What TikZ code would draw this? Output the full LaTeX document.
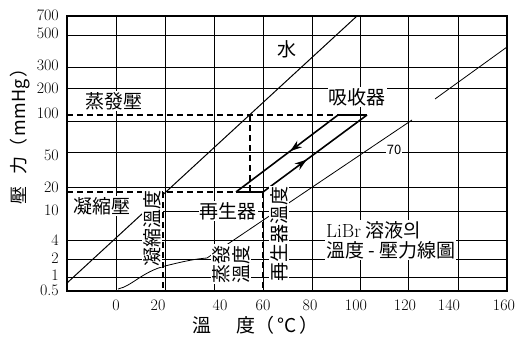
\documentclass[tikz,border=0pt]{standalone}
\usepackage{fontspec}
\newfontfamily\kr{Noto Sans CJK KR}
\usetikzlibrary{decorations.markings,arrows.meta}

\begin{document}
\begin{tikzpicture}
	[x=1pt,y=-1pt,
	chartframe/.style={line width=1.7pt,black},
	grid/.style={line width=1pt,black},
	water/.style={line width=1pt,black},
	soln/.style={line width=0.8pt,black},
	cycle_line/.style={line width=1.6pt,black},
	guide/.style={line width=1.2pt,dash pattern=on 6pt off 4pt},
	tag/.style={font=\kr\fontsize{19}{20}\selectfont,fill=white,inner sep=1pt},
	tick/.style={font=\fontsize{16}{17}\selectfont,inner sep=1pt},
	arr/.style={postaction={decorate},decoration={markings,mark=at position #1 with {\arrow{Stealth[length=12pt,width=8pt]}}}}]
	\useasboundingbox (0,0) rectangle (516,337);
	% grid
	\foreach \x in {116,165,214,263,312,360,408,458}
		\draw[grid] (\x,16) -- (\x,291);
	\foreach \y in {36,67,88,121,152,187,240,259,277}
		\draw[grid] (67,\y) -- (507,\y);
	\draw[grid] (163,211) -- (507,211);
	\draw[chartframe] (67,16) rectangle (507,291);
	% ticks
	\foreach \v/\y [count=\i] in {700/15,500/33,300/65,200/88,100/113,50/155,20/187,10/210,4/240,2/258,1/275,0.5/290}
		\node[tick,anchor=east] (ty\i) at (60,\y) {\v};
	\foreach \v/\x [count=\i] in {0/116,20/158,40/220,60/263,80/310,100/356,120/405,140/449,160/504}
		\node[tick] (tx\i) at (\x,305) {\v};
	\node[font=\kr\fontsize{18}{20}\selectfont,rotate=90] (ytitle) at (20,132) {壓\hspace{12pt}力（\hspace{2pt}mmHg\hspace{2pt}）};
	\node[font=\kr\fontsize{19}{20}\selectfont,anchor=west] (xtitle) at (189,325) {溫\hspace{25pt}度（\hspace{3pt}°C\hspace{3pt}）};
	% water and solution lines
	\coordinate (w1) at (67,283);
	\coordinate (w2) at (357,16);
	\draw[water] (w1) -- (w2);
	\draw[soln] (118,289) .. controls (132,286) and (142,272) .. (165,266) .. controls (185,261) and (195,259) .. (207,258) -- (412,120);
	\draw[soln] (435,99) -- (507,47);
	% pressure / temperature guides
	\draw[guide] (67,115) -- (338,115);
	\draw[guide] (250,115) -- (250,192);
	\draw[guide] (67,192) -- (236,192);
	\draw[guide] (163,192) -- (163,291);
	\draw[guide] (263,192) -- (263,291);
	% cycle
	\coordinate (absL) at (338,115);
	\coordinate (absR) at (367,115);
	\coordinate (genL) at (236,192);
	\coordinate (genR) at (263,192);
	\draw[cycle_line,arr=0.47] (absL) -- (genL);
	\draw[cycle_line] (genL) -- (genR);
	\draw[cycle_line,arr=0.42] (genR) -- (absR);
	\draw[cycle_line] (absR) -- (absL);
	% labels
	\node[tag] (evap) at (114,101) {蒸發壓};
	\node[tag] (cond) at (102,206) {凝縮壓};
	\node[tag] (absorber) at (357,97) {吸收器};
	\node[tag] (gen) at (228,211) {再生器};
	\node[tag] (wlabel) at (287,49) {水};
	\node[tag,rotate=90] (condT) at (152,228) {凝縮溫度};
	\node[tag,rotate=90,align=center] (evapT) at (231,264) {蒸發\\溫度};
	\node[tag,rotate=90] (genT) at (279,234) {再生器溫度};
	\node[tag,font=\kr\fontsize{13}{14}\selectfont] (c70) at (394,150) {70};
	\node[tag,align=left,anchor=west] (chart) at (325,240) {{\rmfamily LiBr} 溶液의\\溫度 - 壓力線圖};
\end{tikzpicture}
\end{document}
